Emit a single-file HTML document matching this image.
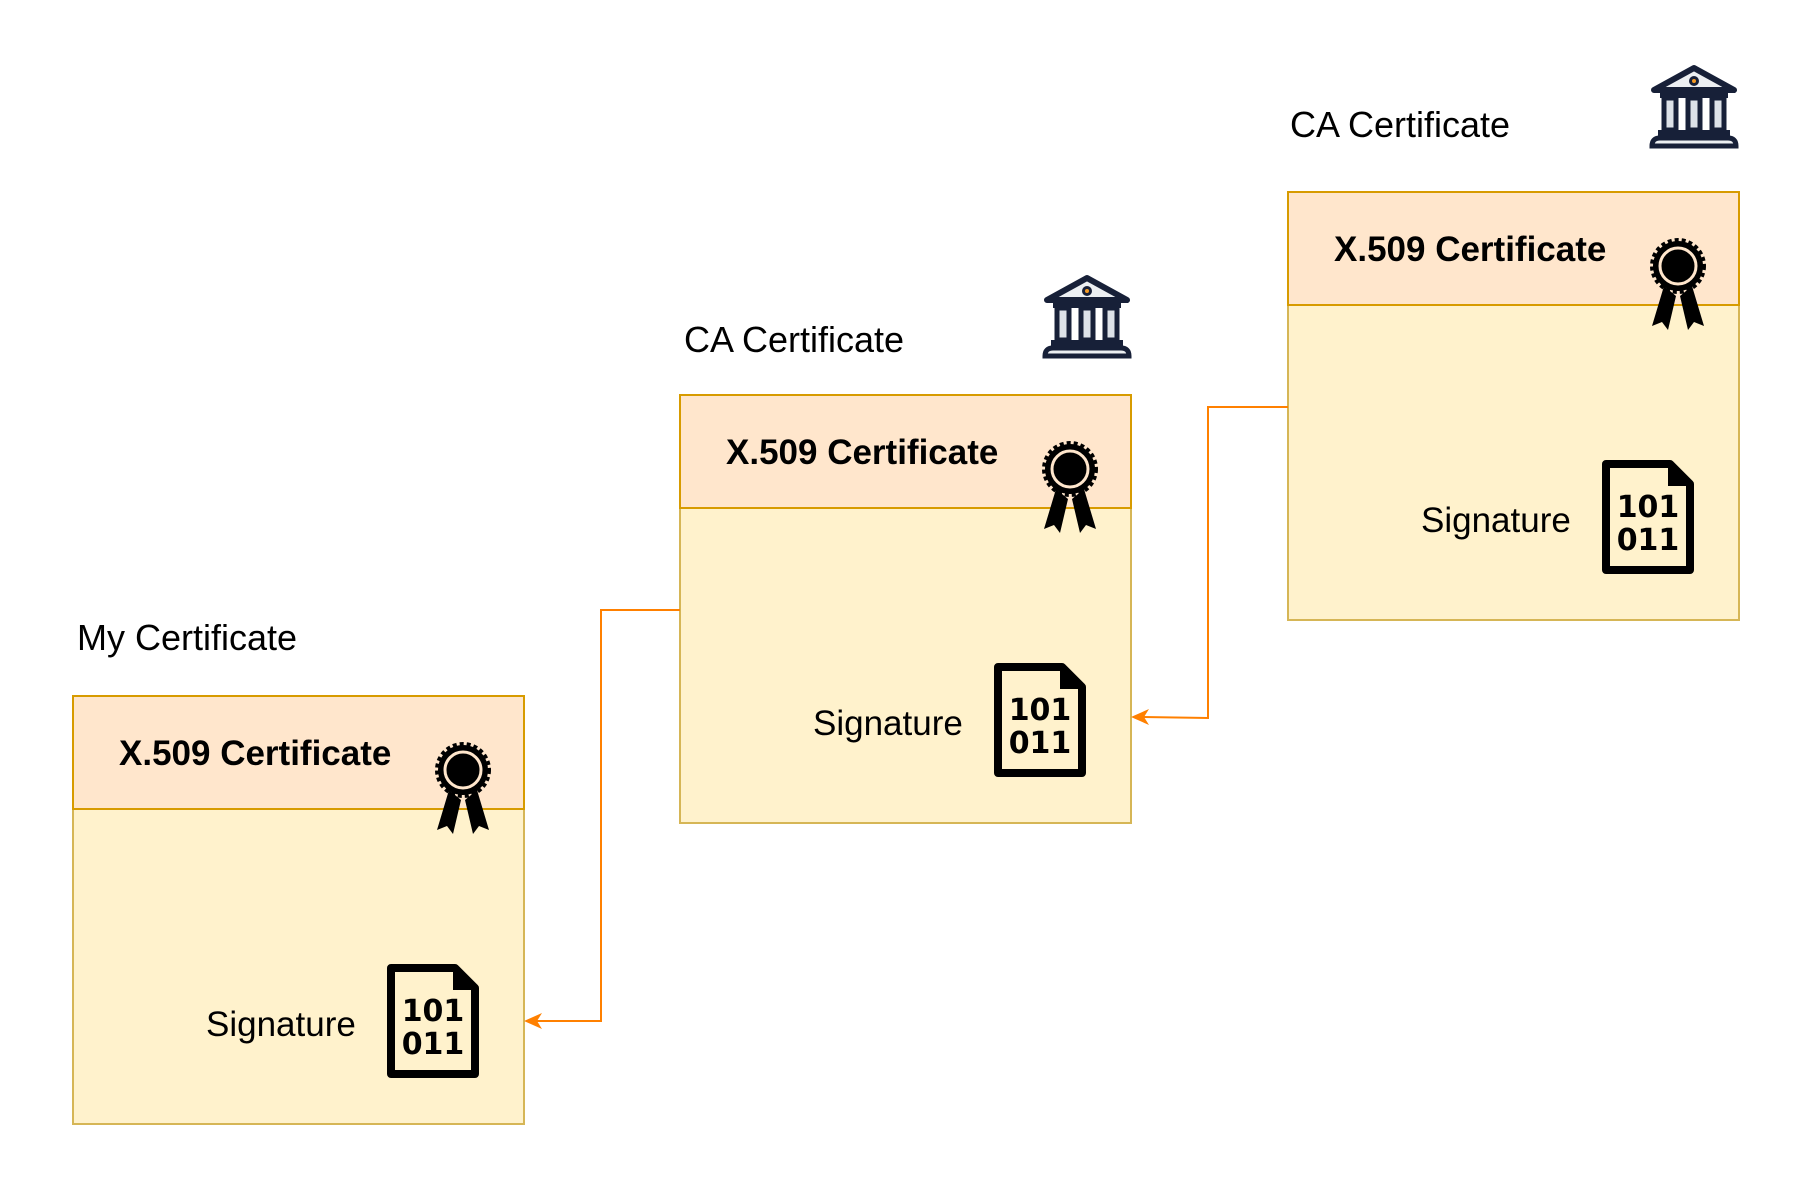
<!DOCTYPE html>
<html><head><meta charset="utf-8"><style>html,body{margin:0;padding:0;background:#fff}svg{display:block}</style></head><body>
<svg width="1818" height="1185" viewBox="0 0 1818 1185" xmlns="http://www.w3.org/2000/svg" font-family="Liberation Sans, Arial, sans-serif">
<defs>
<g id="cert">
  <rect x="0" y="0" width="451" height="428" fill="#fff2cc" stroke="#d6b656" stroke-width="2"/>
  <rect x="0" y="0" width="451" height="113" fill="#ffe6cc" stroke="#d79b00" stroke-width="2"/>
  <text x="46" y="69" font-size="35" font-weight="bold" fill="#000">X.509 Certificate</text>
  <text x="133" y="340" font-size="35" fill="#000">Signature</text>
  <g transform="translate(362,46)">
    <path d="M14 48 L2 88 L12 84 L18 92 L26 58 Z" fill="#000"/>
    <path d="M42 48 L54 88 L44 84 L38 92 L30 58 Z" fill="#000"/>
    <circle cx="28" cy="28" r="25" fill="#000"/>
    <circle cx="28" cy="28" r="26" fill="none" stroke="#000" stroke-width="4" stroke-dasharray="4 3"/>
    <circle cx="28" cy="28" r="18" fill="none" stroke="#ffe6cc" stroke-width="3"/>
  </g>
  <g transform="translate(314,268)">
    <path d="M4 4 H68 L88 24 V110 H4 Z" fill="none" stroke="#000" stroke-width="8" stroke-linejoin="round"/>
    <path d="M66 4 V26 H88 Z" fill="#000"/>
    <text x="46" y="57" font-size="30" font-weight="bold" text-anchor="middle" fill="#000" font-family="DejaVu Sans, sans-serif">101</text>
    <text x="46" y="90" font-size="30" font-weight="bold" text-anchor="middle" fill="#000" font-family="DejaVu Sans, sans-serif">011</text>
  </g>
</g>
<g id="bank">
  <path d="M4 30 L44 8 L84 30 Z" fill="#eceff2" stroke="#172038" stroke-width="6" stroke-linejoin="round"/>
  <circle cx="44" cy="21" r="5" fill="#172038"/><circle cx="44" cy="21" r="2" fill="#f59a23"/>
  <rect x="10" y="32" width="68" height="6" fill="#172038"/>
  <rect x="14" y="38" width="12" height="32" fill="#dde2e8" stroke="#172038" stroke-width="5"/>
  <rect x="38" y="38" width="12" height="32" fill="#dde2e8" stroke="#172038" stroke-width="5"/>
  <rect x="62" y="38" width="12" height="32" fill="#dde2e8" stroke="#172038" stroke-width="5"/>
  <rect x="8" y="70" width="72" height="6" fill="#172038"/>
  <path d="M2 86 Q2 78 10 78 H78 Q86 78 86 86 Z" fill="#eceff2" stroke="#172038" stroke-width="5"/>
</g>
</defs>
<text x="77" y="650" font-size="36" fill="#000">My Certificate</text>
<text x="684" y="352" font-size="36" fill="#000">CA Certificate</text>
<text x="1290" y="137" font-size="36" fill="#000">CA Certificate</text>
<use href="#bank" transform="translate(1043,270)"/>
<use href="#bank" transform="translate(1650,60)"/>
<use href="#cert" transform="translate(73,696)"/>
<use href="#cert" transform="translate(680,395)"/>
<use href="#cert" transform="translate(1288,192)"/>
<g fill="none" stroke="#ff8000" stroke-width="2">
  <polyline points="680,610 601,610 601,1021 536,1021"/>
  <polyline points="1288,407 1208,407 1208,718 1143,717"/>
</g>
<path d="M524 1021 L542 1013 L537 1021 L542 1029 Z" fill="#ff8000"/>
<path d="M1131 717 L1149 709 L1144 717 L1149 725 Z" fill="#ff8000"/>
</svg>
</body></html>
